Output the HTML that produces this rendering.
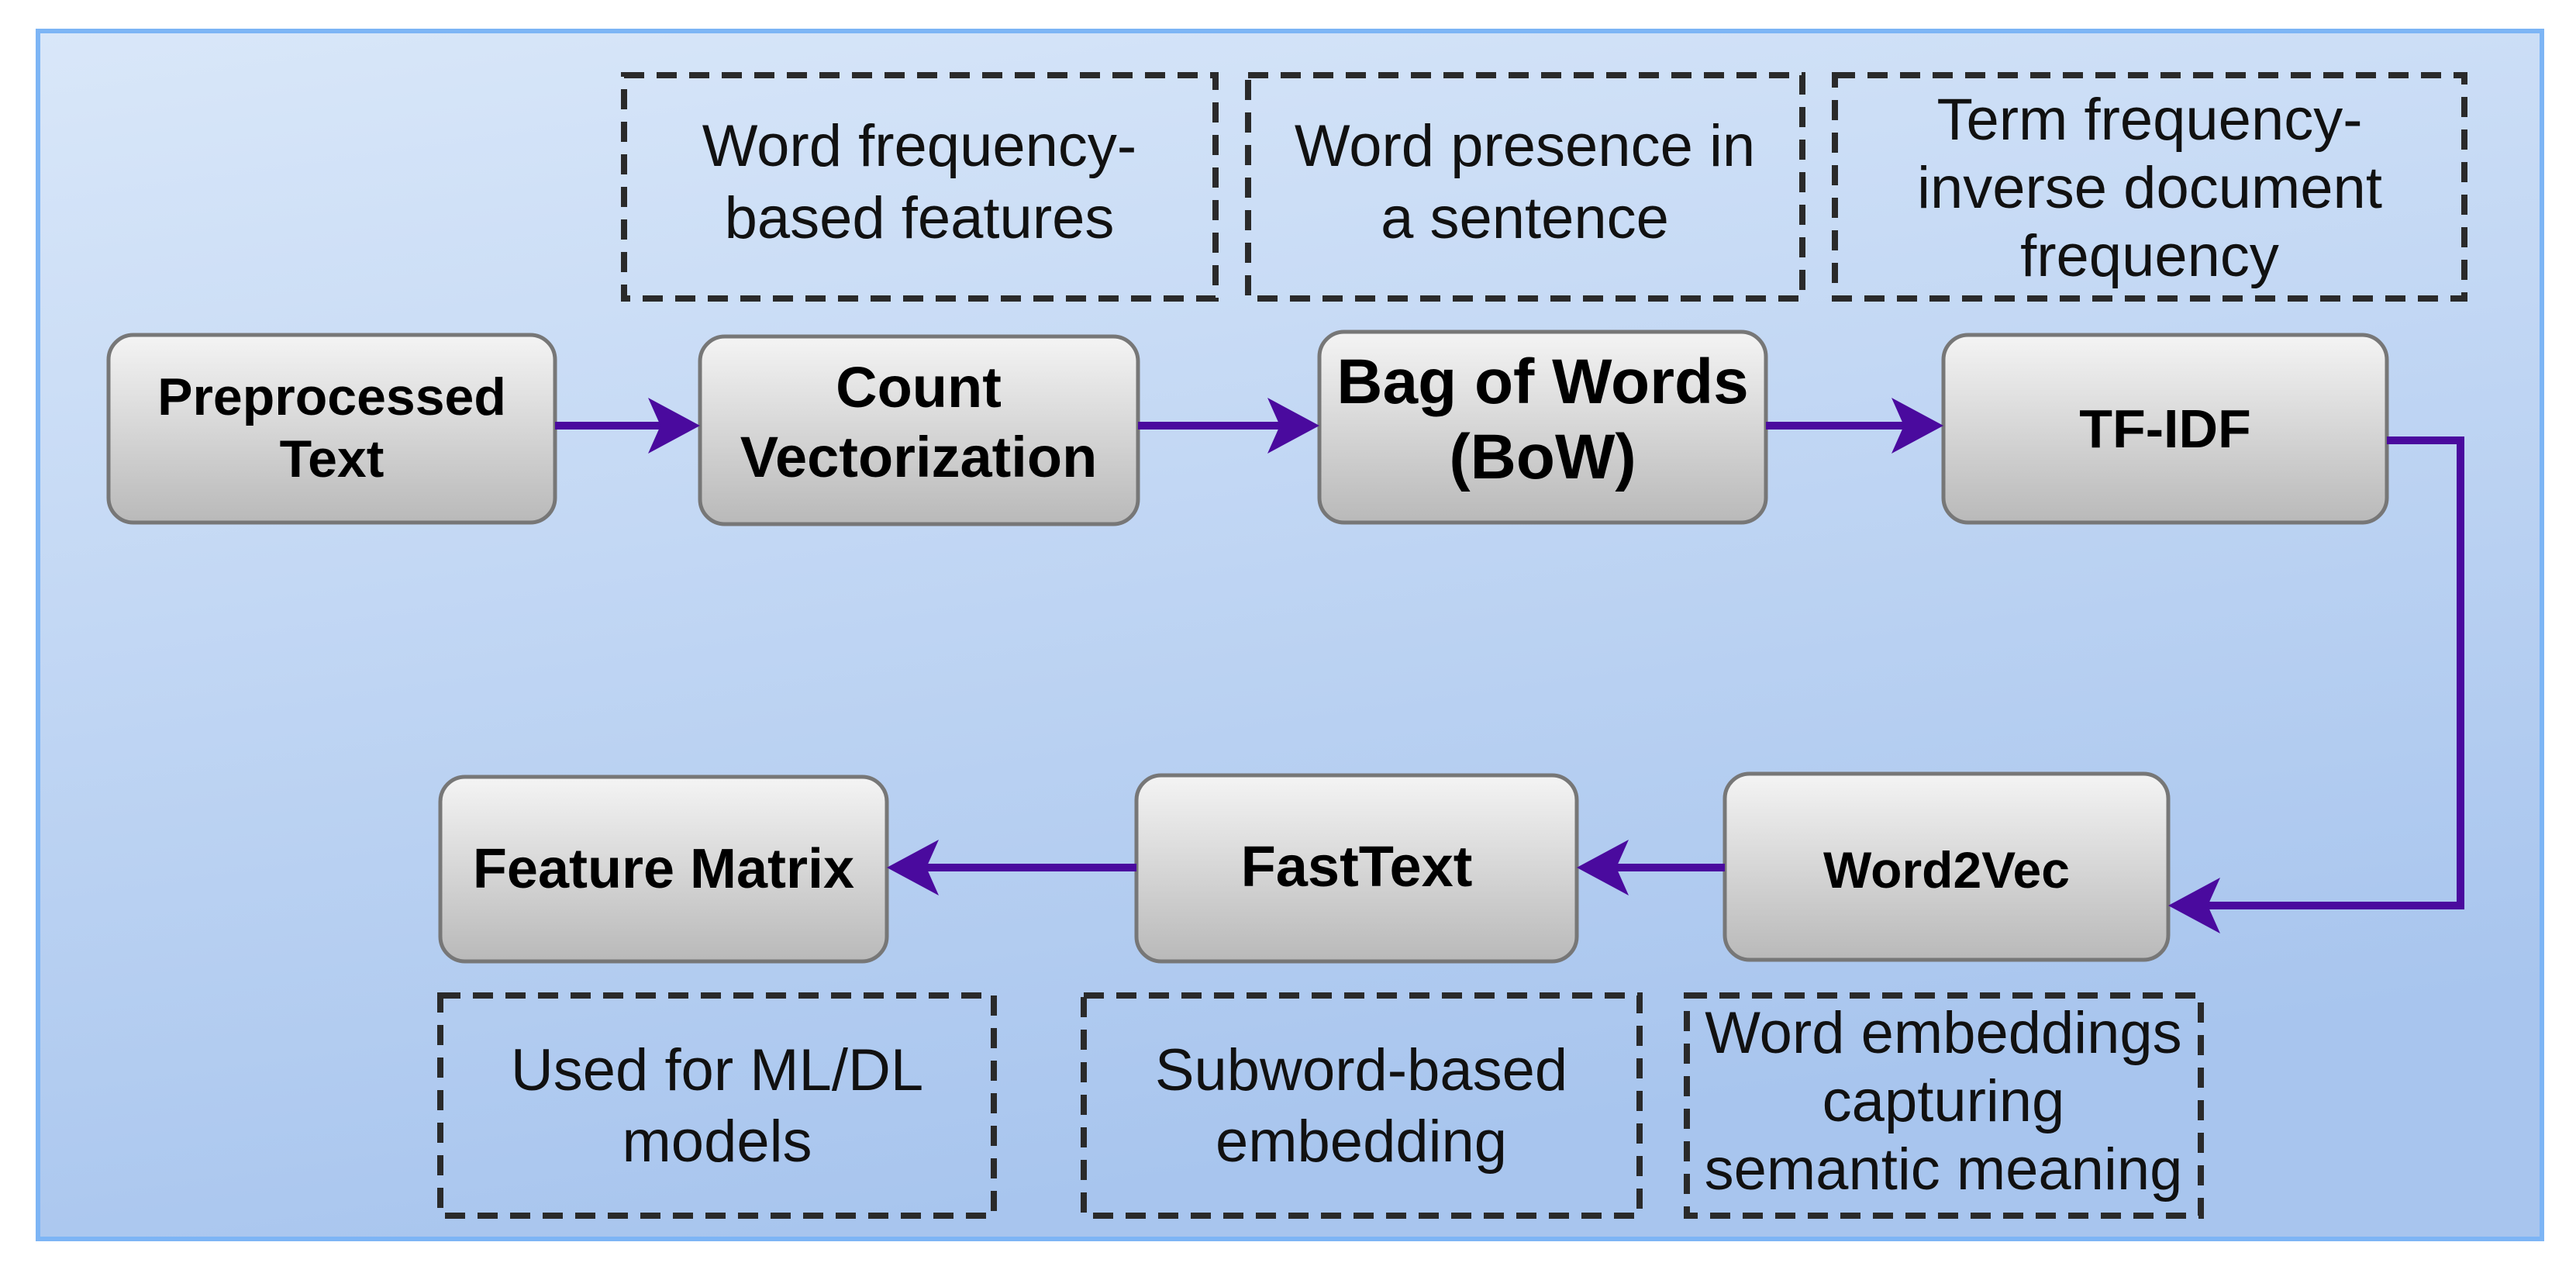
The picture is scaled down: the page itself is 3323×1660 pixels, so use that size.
<!DOCTYPE html>
<html><head><meta charset="utf-8"><style>
html,body{margin:0;padding:0;background:#fff;}
svg{display:block;}
.b{font-family:"Liberation Sans",sans-serif;font-weight:bold;fill:#000;text-anchor:middle;}
.n{font-family:"Liberation Sans",sans-serif;fill:#111;text-anchor:middle;font-size:76px;}
</style></head><body>
<svg width="3323" height="1660" viewBox="0 0 3323 1660" xmlns="http://www.w3.org/2000/svg">
<defs>
<linearGradient id="bg" x1="0" y1="0" x2="0.3" y2="1">
<stop offset="0" stop-color="#d9e7f9"/><stop offset="1" stop-color="#a8c5ee"/>
</linearGradient>
<linearGradient id="bx" x1="0" y1="0" x2="0" y2="1">
<stop offset="0" stop-color="#f4f4f4"/><stop offset="1" stop-color="#b9b9b9"/>
</linearGradient>
</defs>
<rect x="0" y="0" width="3323" height="1660" fill="#fff"/>
<rect x="49" y="40" width="3230" height="1558" fill="url(#bg)" stroke="#7db5f5" stroke-width="6"/>

<g fill="none" stroke="#2a2a2a" stroke-width="8" stroke-dasharray="26,16">
<rect x="805" y="97" width="763" height="288"/>
<rect x="1610" y="97" width="715" height="288"/>
<rect x="2367" y="97" width="812" height="288"/>
<rect x="568" y="1284" width="714" height="284"/>
<rect x="1398" y="1284" width="717" height="284"/>
<rect x="2176" y="1284" width="663" height="284"/>
</g>
<text class="n" x="1186" y="214">Word frequency-</text>
<text class="n" x="1186" y="307">based features</text>
<text class="n" x="1967" y="214">Word presence in</text>
<text class="n" x="1967" y="307">a sentence</text>
<text class="n" x="2773" y="180">Term frequency-</text>
<text class="n" x="2773" y="268">inverse document</text>
<text class="n" x="2773" y="356">frequency</text>
<text class="n" x="925" y="1406">Used for ML/DL</text>
<text class="n" x="925" y="1498">models</text>
<text class="n" x="1756" y="1406">Subword-based</text>
<text class="n" x="1756" y="1498">embedding</text>
<text class="n" x="2507" y="1358">Word embeddings</text>
<text class="n" x="2507" y="1446">capturing</text>
<text class="n" x="2507" y="1534">semantic meaning</text>

<g fill="url(#bx)" stroke="#777" stroke-width="5">
<rect x="140" y="432" width="576" height="242" rx="32"/>
<rect x="903" y="434" width="565" height="242" rx="32"/>
<rect x="1702" y="428" width="576" height="246" rx="32"/>
<rect x="2507" y="432" width="572" height="242" rx="32"/>
<rect x="568" y="1002" width="576" height="238" rx="32"/>
<rect x="1466" y="1000" width="568" height="240" rx="32"/>
<rect x="2225" y="998" width="572" height="240" rx="32"/>
</g>
<text class="b" x="428" y="535" font-size="68">Preprocessed</text>
<text class="b" x="428" y="615" font-size="68">Text</text>
<text class="b" x="1185" y="525" font-size="74">Count</text>
<text class="b" x="1185" y="615" font-size="74">Vectorization</text>
<text class="b" x="1990" y="520" font-size="82">Bag of Words</text>
<text class="b" x="1990" y="617" font-size="82">(BoW)</text>
<text class="b" x="2793" y="577" font-size="70">TF-IDF</text>
<text class="b" x="856" y="1145" font-size="72">Feature Matrix</text>
<text class="b" x="1750" y="1143" font-size="74">FastText</text>
<text class="b" x="2511" y="1145" font-size="66">Word2Vec</text>

<g fill="none" stroke="#4a0a9e" stroke-width="10">
<path d="M716,549 L860,549"/>
<path d="M1468,549 L1660,549"/>
<path d="M2278,549 L2465,549"/>
<path d="M3079,568 L3174,568 L3174,1168 L2840,1168"/>
<path d="M2225,1119 L2075,1119"/>
<path d="M1466,1119 L1185,1119"/>
</g>
<g fill="#4a0a9e">
<polygon points="903,549 836,513 852,549 836,585"/>
<polygon points="1702,549 1635,513 1651,549 1635,585"/>
<polygon points="2507,549 2440,513 2456,549 2440,585"/>
<polygon points="2797,1168 2864,1132 2848,1168 2864,1204"/>
<polygon points="2034,1119 2101,1083 2085,1119 2101,1155"/>
<polygon points="1144,1119 1211,1083 1195,1119 1211,1155"/>
</g>
</svg>
</body></html>
